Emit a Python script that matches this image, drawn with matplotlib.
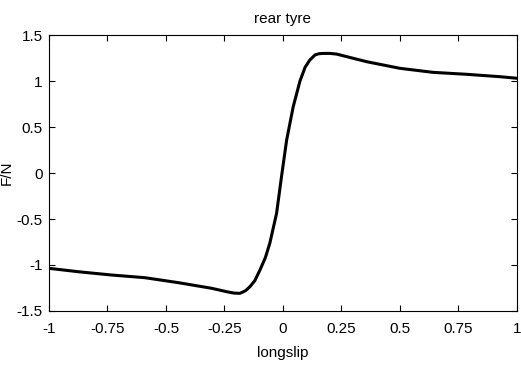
import matplotlib
matplotlib.use("Agg")
import matplotlib.pyplot as plt

# longitudinal slip vs. normalised force
slip = [-1.0, -0.875, -0.732, -0.59, -0.447, -0.305, -0.241, -0.21, -0.184, -0.16,
        -0.141, -0.12, -0.098, -0.075, -0.056, -0.027, -0.006, 0.016, 0.044, 0.073,
        0.095, 0.115, 0.137, 0.155, 0.172, 0.2, 0.229, 0.358, 0.5, 0.642, 0.785,
        0.927, 1.0]
force = [-1.036, -1.073, -1.109, -1.138, -1.192, -1.253, -1.29, -1.305, -1.308, -1.28,
         -1.236, -1.17, -1.054, -0.92, -0.764, -0.438, -0.04, 0.359, 0.72, 1.0,
         1.15, 1.228, 1.283, 1.297, 1.30, 1.30, 1.293, 1.21, 1.138, 1.094, 1.073,
         1.047, 1.03]

xticks = [-1, -0.75, -0.5, -0.25, 0, 0.25, 0.5, 0.75, 1]
xlabels = ["-1", "-0.75", "-0.5", "-0.25", "0", "0.25", "0.5", "0.75", "1"]
yticks = [-1.5, -1, -0.5, 0, 0.5, 1, 1.5]
ylabels = ["-1.5", "-1", "-0.5", "0", "0.5", "1", "1.5"]

plt.rcParams["font.family"] = ["Liberation Sans", "DejaVu Sans"]

fig = plt.figure(figsize=(5.21, 3.67), dpi=100)
ax = fig.add_axes([0.094, 0.1526, 0.898, 0.752])

ax.plot(slip, force, color="black", linewidth=2.2, solid_joinstyle="round")

ax.set_xlim(-1, 1)
ax.set_ylim(-1.5, 1.5)
ax.set_xticks(xticks)
ax.set_xticklabels(xlabels)
ax.set_yticks(yticks)
ax.set_yticklabels(ylabels)
ax.tick_params(direction="in", length=4, width=0.8, top=True, right=True,
               labelsize=11, colors="black")
ax.tick_params(axis="x", pad=8)
ax.tick_params(axis="y", pad=4.5)
for s in ax.spines.values():
    s.set_linewidth(0.8)

ax.set_title("rear tyre", fontsize=11, pad=9)
ax.set_xlabel("longslip", fontsize=11, labelpad=7)
ax.set_ylabel("F/N", fontsize=11, labelpad=2)

fig.savefig("out.png", dpi=100)
